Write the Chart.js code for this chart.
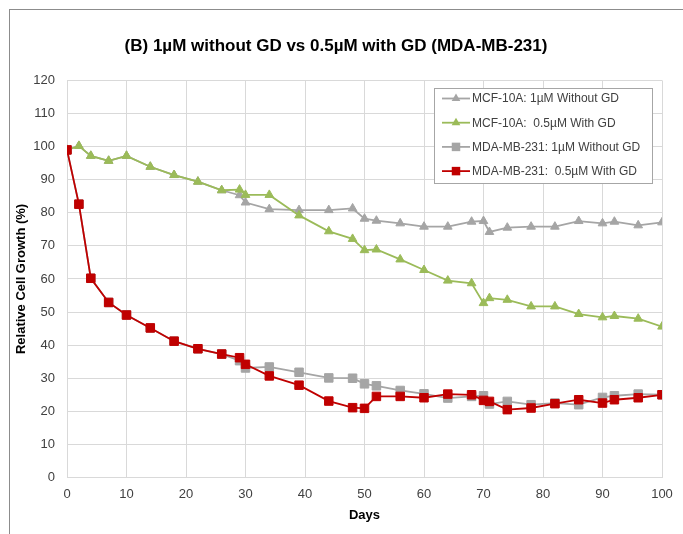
<!DOCTYPE html>
<html lang="en">
<head>
<meta charset="UTF-8" />
<title>Cell Growth</title>
<script src="https://cdn.jsdelivr.net/npm/chart.js"></script>
<style>
  html, body { margin: 0; padding: 0; background: #fff; }
  .wrap { position: relative; width: 683px; height: 534px; }
  .frame {
    position: absolute; left: 9px; top: 9px; right: 0; bottom: 0;
    border-top: 1px solid #8c8c8c; border-left: 1px solid #8c8c8c;
    pointer-events: none;
  }
  canvas { position: absolute; left: 0; top: 0; }
</style>
</head>
<body>
<div class="wrap">
  <canvas id="growth" width="683" height="534"></canvas>
  <div class="frame"></div>
</div>
<script>
// days of measurement
const days = [0, 2, 4, 7, 10, 14, 18, 22, 26, 29, 30, 34, 39, 44, 48, 50, 52, 56, 60, 64, 68, 70, 71, 74, 78, 82, 86, 90, 92, 96, 100];

const mcfWithout = [99, 100.2, 97.2, 95.7, 97.2, 93.9, 91.4, 89.4, 86.8, 85.3, 83.1, 81.1, 80.8, 80.8, 81.3, 78.2, 77.6, 76.8, 75.8, 75.8, 77.3, 77.5, 74.2, 75.5, 75.8, 75.8, 77.5, 76.8, 77.3, 76.2, 77.1];
const mcfWith = [99, 100.2, 97.2, 95.7, 97.2, 93.9, 91.4, 89.4, 86.8, 87.0, 85.4, 85.4, 79.2, 74.4, 72.1, 68.7, 68.9, 65.9, 62.7, 59.5, 58.7, 52.7, 54.2, 53.7, 51.7, 51.7, 49.4, 48.4, 48.8, 48.0, 45.6];
const mdaWithout = [99, 82.6, 60.2, 52.9, 49.1, 45.2, 41.2, 38.9, 37.3, 35.3, 33.1, 33.4, 31.8, 30.1, 30.0, 28.3, 27.7, 26.3, 25.3, 24.0, 24.5, 24.7, 22.2, 23.0, 22.0, 22.5, 22.0, 24.2, 24.7, 25.2, 25.0];
const mdaWith = [99, 82.6, 60.2, 52.9, 49.1, 45.2, 41.2, 38.9, 37.3, 36.2, 34.2, 30.7, 27.9, 23.1, 21.1, 20.9, 24.5, 24.5, 24.1, 25.2, 25.0, 23.3, 23.0, 20.5, 21.0, 22.3, 23.5, 22.5, 23.5, 24.1, 25.0];

const seriesNames = [
  'MCF-10A: 1\u00b5M Without GD',
  'MCF-10A:  0.5\u00b5M With GD',
  'MDA-MB-231: 1\u00b5M Without GD',
  'MDA-MB-231:  0.5\u00b5M With GD'
];

const FONT = "'Liberation Sans', Arial, sans-serif";
const GRAY = '#a5a5a5', GREEN = '#9bbb59', RED = '#c00000';

function pts(vals) { return days.map((d, i) => ({ x: d, y: vals[i] })); }

function series(label, vals, color, style, radius, order) {
  return {
    label, data: pts(vals), order,
    borderColor: color, backgroundColor: color,
    pointBackgroundColor: color, pointBorderColor: color,
    pointStyle: style, pointRadius: radius, pointBorderWidth: 1,
    borderWidth: 1.8, tension: 0
  };
}

function marker(ctx, style, x, y, r) {
  ctx.beginPath();
  if (style === 'triangle') {
    ctx.moveTo(x, y - r);
    ctx.lineTo(x + r * 0.87, y + r * 0.5);
    ctx.lineTo(x - r * 0.87, y + r * 0.5);
    ctx.closePath();
  } else {
    const s = r * Math.SQRT1_2;
    ctx.rect(x - s, y - s, 2 * s, 2 * s);
  }
  ctx.fill();
}

// legend box drawn inside the plot area
const insideLegend = {
  id: 'insideLegend',
  afterDraw(chart) {
    const ctx = chart.ctx;
    const x0 = 434.5, y0 = 88.5, w = 218, h = 95;
    ctx.save();
    ctx.fillStyle = '#fff';
    ctx.fillRect(x0, y0, w, h);
    ctx.strokeStyle = '#a6a6a6';
    ctx.lineWidth = 1;
    ctx.strokeRect(x0, y0, w, h);
    ctx.font = '12px ' + FONT;
    ctx.textBaseline = 'middle';
    chart.data.datasets.forEach((ds, i) => {
      const y = 98.5 + i * 24.2;
      ctx.strokeStyle = ds.borderColor;
      ctx.lineWidth = 1.8;
      ctx.beginPath();
      ctx.moveTo(442, y); ctx.lineTo(470, y);
      ctx.stroke();
      ctx.fillStyle = ds.borderColor;
      marker(ctx, ds.pointStyle, 456, y, ds.pointRadius);
      ctx.fillStyle = '#404040';
      ctx.fillText(ds.label, 472, y + 0.5);
    });
    ctx.restore();
  }
};

new Chart(document.getElementById('growth').getContext('2d'), {
  type: 'line',
  data: {
    datasets: [
      series(seriesNames[0], mcfWithout, GRAY, 'triangle', 5, 3),
      series(seriesNames[1], mcfWith, GREEN, 'triangle', 5, 2),
      series(seriesNames[2], mdaWithout, GRAY, 'rect', 6, 1),
      series(seriesNames[3], mdaWith, RED, 'rect', 6, 0)
    ]
  },
  options: {
    responsive: false,
    devicePixelRatio: 1,
    animation: false,
    layout: { padding: { top: 8, left: 10, right: 21, bottom: 7 } },
    plugins: {
      legend: { display: false },
      tooltip: { enabled: false },
      title: {
        display: true,
        text: '(B) 1\u00b5M without GD vs 0.5\u00b5M with GD (MDA-MB-231)',
        color: '#000',
        font: { family: FONT, size: 17, weight: 'bold' },
        padding: { top: 28, bottom: 24 }
      }
    },
    scales: {
      x: {
        type: 'linear', min: 0, max: 100,
        ticks: { stepSize: 10, color: '#404040', padding: 9, font: { family: FONT, size: 13 } },
        grid: { color: '#d9d9d9', drawTicks: false },
        border: { color: '#d9d9d9' },
        title: { display: true, text: 'Days', color: '#000', font: { family: FONT, size: 13, weight: 'bold' } },
        afterFit(scale) { scale.height = 49.5; }
      },
      y: {
        min: 0, max: 120,
        ticks: { stepSize: 10, color: '#404040', padding: 12, font: { family: FONT, size: 13 } },
        grid: { color: '#d9d9d9', drawTicks: false },
        border: { color: '#d9d9d9' },
        title: { display: true, text: 'Relative Cell Growth (%)', color: '#000', font: { family: FONT, size: 13, weight: 'bold' } },
        afterFit(scale) { scale.width = 57; }
      }
    }
  },
  plugins: [insideLegend]
});
</script>
</body>
</html>
